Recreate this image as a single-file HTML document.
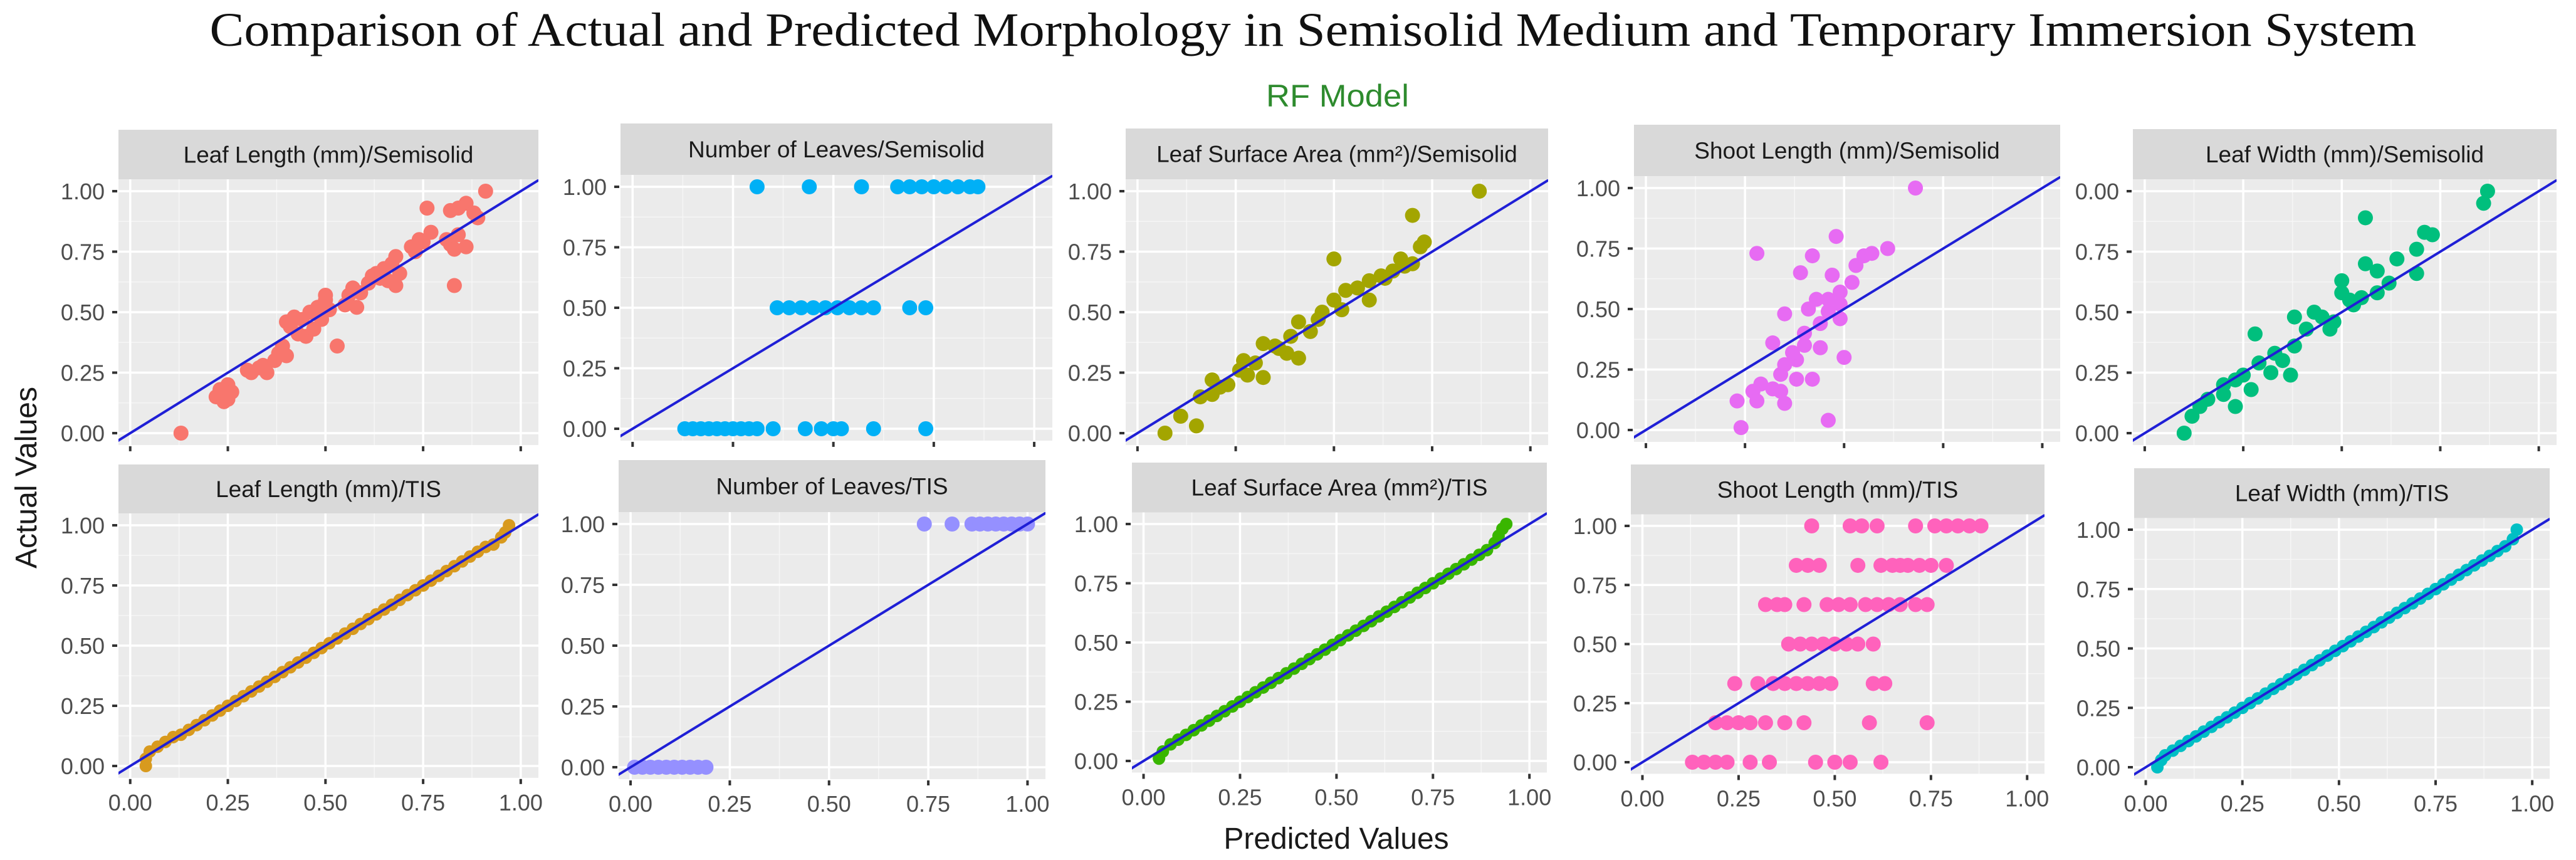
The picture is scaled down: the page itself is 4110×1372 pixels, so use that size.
<!DOCTYPE html>
<html><head><meta charset="utf-8"><style>
html,body{margin:0;padding:0;background:#fff;}
svg{display:block;}
</style></head><body>
<svg id="chart" width="4110" height="1372" viewBox="0 0 4110 1372" xmlns="http://www.w3.org/2000/svg">
<rect x="0" y="0" width="4110" height="1372" fill="#ffffff"/>
<text x="2095" y="73" font-family="Liberation Serif, serif" font-size="76" fill="#111" text-anchor="middle" textLength="3521" lengthAdjust="spacingAndGlyphs">Comparison of Actual and Predicted Morphology in Semisolid Medium and Temporary Immersion System</text>
<text x="2134" y="170" font-family="Liberation Sans, sans-serif" font-size="50" fill="#2e8b2e" text-anchor="middle" textLength="228" lengthAdjust="spacingAndGlyphs">RF Model</text>
<text transform="translate(58,762) rotate(-90)" font-family="Liberation Sans, sans-serif" font-size="48" fill="#1a1a1a" text-anchor="middle">Actual Values</text>
<text x="2132" y="1354" font-family="Liberation Sans, sans-serif" font-size="48" fill="#1a1a1a" text-anchor="middle">Predicted Values</text>
<g id="panels"></g>
</svg>
<script>
// ---- data ----
const panelTitles = ["Leaf Length (mm)/Semisolid","Number of Leaves/Semisolid","Leaf Surface Area (mm²)/Semisolid","Shoot Length (mm)/Semisolid","Leaf Width (mm)/Semisolid","Leaf Length (mm)/TIS","Number of Leaves/TIS","Leaf Surface Area (mm²)/TIS","Shoot Length (mm)/TIS","Leaf Width (mm)/TIS"];
const tickValues = [0, 0.25, 0.5, 0.75, 1];
const tickLabels = ["0.00","0.25","0.50","0.75","1.00"];
const tickLabelsOdd = ["0.00","0.25","0.50","0.75","0.00"];

const llSemiPred = [0.13,0.22,0.23,0.24,0.25,0.26,0.25,0.30,0.31,0.33, 0.35,0.34,0.37,0.38,0.39,0.40,0.40,0.41,0.42,0.43, 0.44,0.45,0.46,0.47,0.48,0.49,0.50,0.51,0.50,0.53, 0.55,0.56,0.57,0.58,0.59,0.61,0.62,0.63,0.64,0.65, 0.66,0.67,0.68,0.69,0.68,0.72,0.73,0.74,0.75,0.77, 0.76,0.81,0.82,0.83,0.84,0.86,0.83,0.82,0.84,0.86, 0.88,0.89,0.91];
const llSemiAct  = [0.00,0.15,0.18,0.13,0.20,0.17,0.14,0.26,0.25,0.27, 0.25,0.28,0.30,0.33,0.36,0.32,0.46,0.44,0.48,0.41, 0.47,0.40,0.50,0.43,0.52,0.47,0.55,0.51,0.57,0.36, 0.53,0.57,0.60,0.52,0.58,0.62,0.65,0.66,0.64,0.68, 0.63,0.70,0.73,0.66,0.61,0.77,0.75,0.80,0.79,0.83, 0.93,0.80,0.78,0.76,0.82,0.77,0.61,0.92,0.93,0.95, 0.91,0.89,1.00];

const nlSemiPred = [0.31,0.44,0.57,0.66,0.69,0.72,0.75,0.78,0.81,0.84, 0.86,0.36,0.39,0.42,0.45,0.48,0.51,0.54,0.57,0.60, 0.69,0.73,0.13,0.15,0.17,0.19,0.21,0.23,0.25,0.27, 0.29,0.31,0.35,0.43,0.47,0.50,0.52,0.60,0.73];
const nlSemiAct  = [1,1,1,1,1,1,1,1,1,1, 1,0.5,0.5,0.5,0.5,0.5,0.5,0.5,0.5,0.5, 0.5,0.5,0,0,0,0,0,0,0,0, 0,0,0,0,0,0,0,0,0];

const lsaSemiPred = [0.07,0.11,0.15,0.16,0.19,0.19,0.23,0.26,0.27,0.28, 0.32,0.32,0.35,0.38,0.41,0.41,0.44,0.47,0.50,0.50, 0.53,0.52,0.59,0.59,0.62,0.65,0.67,0.68,0.70,0.73, 0.72,0.87,0.21,0.30,0.36,0.39,0.46,0.56,0.63,0.70];
const lsaSemiAct  = [0.00,0.07,0.03,0.15,0.16,0.22,0.20,0.26,0.30,0.24, 0.23,0.37,0.36,0.33,0.31,0.46,0.42,0.50,0.55,0.72, 0.59,0.51,0.55,0.63,0.65,0.67,0.72,0.69,0.90,0.79, 0.77,1.00,0.19,0.29,0.35,0.40,0.47,0.60,0.64,0.70];

const slSemiPred = [0.68,0.28,0.48,0.42,0.61,0.39,0.47,0.55,0.57,0.53, 0.52,0.49,0.43,0.35,0.41,0.46,0.49,0.44,0.40,0.32, 0.44,0.50,0.38,0.35,0.34,0.38,0.42,0.29,0.32,0.27, 0.34,0.23,0.28,0.35,0.46,0.24,0.40,0.37,0.46,0.49];
const slSemiAct  = [1.00,0.73,0.80,0.72,0.75,0.65,0.64,0.72,0.73,0.68, 0.61,0.57,0.54,0.48,0.50,0.49,0.46,0.44,0.40,0.36, 0.34,0.30,0.29,0.27,0.23,0.21,0.21,0.19,0.17,0.16, 0.16,0.12,0.12,0.11,0.04,0.01,0.35,0.32,0.54,0.52];

const lwSemiPred = [0.10,0.12,0.14,0.20,0.23,0.20,0.23,0.27,0.28,0.29, 0.32,0.37,0.35,0.38,0.38,0.41,0.43,0.47,0.48,0.50, 0.50,0.53,0.55,0.56,0.56,0.59,0.59,0.64,0.69,0.69, 0.71,0.73,0.86,0.87,0.16,0.25,0.33,0.45,0.52,0.62];
const lwSemiAct  = [0.00,0.07,0.11,0.16,0.11,0.20,0.22,0.18,0.41,0.29, 0.25,0.24,0.30,0.36,0.48,0.43,0.50,0.43,0.46,0.63, 0.58,0.53,0.56,0.70,0.89,0.67,0.58,0.72,0.76,0.66, 0.83,0.82,0.95,1.00,0.14,0.24,0.33,0.48,0.55,0.62];

const llTisPred = [0.04,0.04,0.05,0.07,0.09,0.11,0.13,0.15,0.17,0.19, 0.21,0.23,0.25,0.27,0.29,0.31,0.33,0.35,0.37,0.39, 0.41,0.43,0.45,0.47,0.49,0.51,0.53,0.55,0.57,0.59, 0.61,0.63,0.65,0.67,0.69,0.71,0.73,0.75,0.77,0.79, 0.81,0.83,0.85,0.87,0.89,0.91,0.93,0.95,0.96,0.97];
const llTisAct  = [0.00,0.03,0.06,0.08,0.10,0.12,0.13,0.15,0.17,0.19, 0.21,0.23,0.25,0.27,0.29,0.31,0.33,0.35,0.37,0.39, 0.41,0.43,0.45,0.47,0.49,0.51,0.53,0.55,0.57,0.59, 0.61,0.63,0.65,0.67,0.69,0.71,0.73,0.75,0.77,0.79, 0.81,0.83,0.85,0.87,0.89,0.91,0.92,0.95,0.97,1.00];

const nlTisPred = [0.01,0.03,0.05,0.07,0.09,0.11,0.13,0.15,0.17,0.19, 0.74,0.81,0.86,0.88,0.90,0.92,0.94,0.96,0.98,1.00];
const nlTisAct  = [0,0,0,0,0,0,0,0,0,0, 1,1,1,1,1,1,1,1,1,1];

const lsaTisPred = [0.04,0.05,0.07,0.09,0.11,0.13,0.15,0.17,0.19,0.21, 0.23,0.25,0.27,0.29,0.31,0.33,0.35,0.37,0.39,0.41, 0.43,0.45,0.47,0.49,0.51,0.53,0.55,0.57,0.59,0.61, 0.63,0.65,0.67,0.69,0.71,0.73,0.75,0.77,0.79,0.81, 0.83,0.85,0.87,0.89,0.91,0.92,0.93,0.94];
const lsaTisAct  = [0.01,0.04,0.07,0.09,0.11,0.13,0.15,0.17,0.19,0.21, 0.23,0.25,0.27,0.29,0.31,0.33,0.35,0.37,0.39,0.41, 0.43,0.45,0.47,0.49,0.51,0.53,0.55,0.57,0.59,0.61, 0.63,0.65,0.67,0.69,0.71,0.73,0.75,0.77,0.79,0.81, 0.83,0.85,0.87,0.89,0.92,0.95,0.98,1.00];

const slTisPred = [0.44,0.54,0.57,0.61,0.71,0.76,0.79,0.82,0.85,0.88, 0.40,0.43,0.46,0.56,0.62,0.65,0.67,0.69,0.72,0.75, 0.79,0.32,0.35,0.37,0.42,0.48,0.51,0.54,0.58,0.61, 0.64,0.67,0.71,0.74,0.38,0.41,0.44,0.47,0.50,0.53, 0.56,0.60,0.24,0.30,0.34,0.37,0.40,0.43,0.46,0.49, 0.60,0.63,0.19,0.22,0.25,0.28,0.32,0.37,0.42,0.59, 0.74,0.13,0.16,0.19,0.22,0.28,0.33,0.45,0.50,0.54, 0.62];
const slTisAct  = [1,1,1,1,1,1,1,1,1,1, 0.833,0.833,0.833,0.833,0.833,0.833,0.833,0.833,0.833,0.833, 0.833,0.667,0.667,0.667,0.667,0.667,0.667,0.667,0.667,0.667, 0.667,0.667,0.667,0.667,0.5,0.5,0.5,0.5,0.5,0.5, 0.5,0.5,0.333,0.333,0.333,0.333,0.333,0.333,0.333,0.333, 0.333,0.333,0.167,0.167,0.167,0.167,0.167,0.167,0.167,0.167, 0.167,0,0,0,0,0,0,0,0,0, 0];

const lwTisPred = [0.03,0.04,0.05,0.07,0.09,0.11,0.13,0.15,0.17,0.19, 0.21,0.23,0.25,0.27,0.29,0.31,0.33,0.35,0.37,0.39, 0.41,0.43,0.45,0.47,0.49,0.51,0.53,0.55,0.57,0.59, 0.61,0.63,0.65,0.67,0.69,0.71,0.73,0.75,0.77,0.79, 0.81,0.83,0.85,0.87,0.89,0.91,0.93,0.95,0.96];
const lwTisAct  = [0.00,0.03,0.05,0.07,0.09,0.11,0.13,0.15,0.17,0.19, 0.21,0.23,0.25,0.27,0.29,0.31,0.33,0.35,0.37,0.39, 0.41,0.43,0.45,0.47,0.49,0.51,0.53,0.55,0.57,0.59, 0.61,0.63,0.65,0.67,0.69,0.71,0.73,0.75,0.77,0.79, 0.81,0.83,0.85,0.87,0.89,0.91,0.93,0.96,1.00];

const seriesPred = [llSemiPred,nlSemiPred,lsaSemiPred,slSemiPred,lwSemiPred,llTisPred,nlTisPred,lsaTisPred,slTisPred,lwTisPred];
const seriesAct  = [llSemiAct,nlSemiAct,lsaSemiAct,slSemiAct,lwSemiAct,llTisAct,nlTisAct,lsaTisAct,slTisAct,lwTisAct];

// ---- layout (geometry only) ----
const colors = ["#F8766D","#00B0F6","#A3A500","#E76BF3","#00BF7D","#D89A1E","#9590FF","#39B600","#FF62BC","#00BFC4"];
const geom = [
 {L:189,R:859,top:207,y1:305,y0:691},
 {L:990,R:1679,top:197,y1:298,y0:684},
 {L:1796,R:2470,top:205,y1:305,y0:691},
 {L:2607,R:3287,top:199,y1:300,y0:686},
 {L:3403,R:4079,top:206,y1:305,y0:691},
 {L:189,R:859,top:741,y1:838,y0:1222},
 {L:987,R:1668,top:734,y1:836,y0:1224},
 {L:1806,R:2468,top:738,y1:836,y0:1214},
 {L:2602,R:3262,top:741,y1:839,y0:1216},
 {L:3405,R:4068,top:747,y1:845,y0:1224}
];
const NS = "http://www.w3.org/2000/svg";
function mk(tag, attrs, parent){const e=document.createElementNS(NS,tag);for(const k in attrs)e.setAttribute(k,attrs[k]);parent.appendChild(e);return e;}
const root = document.getElementById('panels');

geom.forEach((g,i)=>{
  const grp = mk('g',{},root);
  
  
  const W=g.R-g.L;
  const xs = v => g.L + W*(0.028 + 0.93*v);
  const ys = v => g.y0 - (g.y0-g.y1)*v;
  const pTop = g.y1 - 0.049*(g.y0-g.y1);
  const pBot = g.y0 + 0.049*(g.y0-g.y1);
  // strip
  const strip = mk('rect',{x:g.L,y:g.top,width:W,height:pTop-g.top,fill:'#D9D9D9'},grp);
  
  
  const st = mk('text',{x:g.L+W/2,y:(g.top+pTop)/2+13,'font-family':'Liberation Sans, sans-serif','font-size':37,fill:'#1a1a1a','text-anchor':'middle'},grp);
  st.textContent = panelTitles[i];
  
  
  // panel bg
  const bg = mk('rect',{x:g.L,y:pTop,width:W,height:pBot-pTop,fill:'#EBEBEB'},grp);
  
  
  // grid
  for(let k=0;k<4;k++){
    const m=(tickValues[k]+tickValues[k+1])/2;
    mk('line',{x1:g.L,x2:g.R,y1:ys(m),y2:ys(m),stroke:'#f6f6f6','stroke-width':1.5},grp);
    mk('line',{x1:xs(m),x2:xs(m),y1:pTop,y2:pBot,stroke:'#f6f6f6','stroke-width':1.5},grp);
  }
  tickValues.forEach((t,k)=>{
    const gl1 = mk('line',{x1:g.L,x2:g.R,y1:ys(t),y2:ys(t),stroke:'#ffffff','stroke-width':3.5},grp);
    
    
    const gl2 = mk('line',{x1:xs(t),x2:xs(t),y1:pTop,y2:pBot,stroke:'#ffffff','stroke-width':3.5},grp);
    
    
    // y ticks
    mk('line',{x1:g.L-10,x2:g.L-2,y1:ys(t),y2:ys(t),stroke:'#333','stroke-width':4},grp);
    const yl = mk('text',{x:g.L-22,y:ys(t)+13,'font-family':'Liberation Sans, sans-serif','font-size':36,fill:'#4d4d4d','text-anchor':'end'},grp);
    yl.textContent = (i===4?tickLabelsOdd:tickLabels)[k];
    
    
    // x ticks
    mk('line',{x1:xs(t),x2:xs(t),y1:pBot+2,y2:pBot+10,stroke:'#333','stroke-width':4},grp);
    if(i>=5){
      const xl = mk('text',{x:xs(t),y:pBot+52,'font-family':'Liberation Sans, sans-serif','font-size':36,fill:'#4d4d4d','text-anchor':'middle'},grp);
      xl.textContent = tickLabels[k];
      
      
    }
  });
  // clip
  const cp = mk('clipPath',{id:'clip'+i},grp);
  mk('rect',{x:g.L,y:pTop,width:W,height:pBot-pTop},cp);
  const inner = mk('g',{'clip-path':'url(#clip'+i+')'},grp);
  // points
  const P=seriesPred[i], A=seriesAct[i];
  const r = (i>=5 && i!==6 && i!==8) ? 10 : 12;
  for(let j=0;j<P.length;j++){
    const c = mk('circle',{cx:xs(P[j]),cy:ys(A[j]),r:r,fill:colors[i]},inner);
    
    
  }
  // reference line y=x
  const vmin=-0.1, vmax=1.2;
  const ln = mk('line',{x1:xs(vmin),y1:ys(vmin),x2:xs(vmax),y2:ys(vmax),stroke:'#1f1fd6','stroke-width':4},inner);
  
  
});
</script>
</body></html>
